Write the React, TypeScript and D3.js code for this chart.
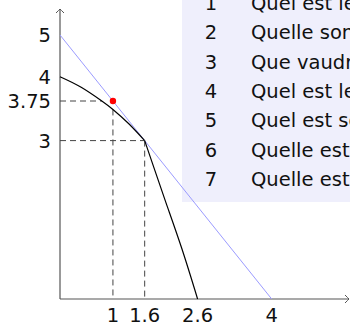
import React, { useEffect, useRef } from 'react';
import * as d3 from 'd3';

// frontière: partie haute et partie basse (coude en 1.6)
const upperX = [0, 0.4, 0.79, 1, 1.3, 1.6];
const upperY = [4.21, 4.01, 3.75, 3.59, 3.32, 3.0];
const lowerX = [1.6, 1.75, 2.0, 2.3, 2.6];
const lowerY = [3.0, 2.56, 1.83, 0.96, 0];
// droite de budget
const budgetX = [0, 4];
const budgetY = [5, 0];
const point = { x: 1, y: 3.75 };

const xTickValues = [1, 1.6, 2.6, 4];
const xTickLabels = ['1', '1.6', '2.6', '4'];
const yTickValues = [3, 3.75, 4.21, 5];
const yTickLabels = ['3', '3.75', '4', '5'];

// guides pointillés: [x1, y1, x2, y2]
const guides = [
  [0, 3.75, 0.79, 3.75],
  [1, 3.59, 1, 0],
  [0, 3, 1.6, 3],
  [1.6, 3, 1.6, 0],
];

const questions = [
  "Quel est le coût d'opportunité ?",
  'Quelle sont les combinaisons possibles ?',
  'Que vaudrait la production maximale ?',
  'Quel est le point optimal ?',
  'Quel est son prix relatif ?',
  'Quelle est la pente de la droite ?',
  'Quelle est la quantité produite ?',
];

const App = () => {
  const svgRef = useRef();

  useEffect(() => {
    const width = 350;
    const height = 324;
    const svg = d3.select(svgRef.current);
    svg.selectAll('*').remove();
    svg.attr('width', width).attr('height', height);

    const x = d3.scaleLinear().domain([0, 4]).range([60, 271.7]);
    const y = d3.scaleLinear().domain([0, 5]).range([299, 35]);
    const font = 'DejaVu Sans, sans-serif';
    const fs = 19.5;

    // legend box
    const legend = svg.append('g');
    legend.append('rect')
      .attr('x', 182).attr('y', -10)
      .attr('width', 200).attr('height', 212)
      .attr('fill', '#efeffc');
    questions.forEach((q, i) => {
      const by = 10 + i * 29.3;
      legend.append('text')
        .attr('x', 211).attr('y', by)
        .attr('text-anchor', 'middle')
        .attr('font-family', font).attr('font-size', fs)
        .attr('fill', '#111')
        .text(i + 1);
      legend.append('text')
        .attr('x', 251).attr('y', by)
        .attr('font-family', font).attr('font-size', fs)
        .attr('fill', '#111')
        .text(q);
    });

    // axes
    const axisColor = '#555';
    svg.append('line')
      .attr('x1', x(0)).attr('y1', y(0))
      .attr('x2', 349).attr('y2', y(0))
      .attr('stroke', axisColor).attr('stroke-width', 1.2);
    svg.append('line')
      .attr('x1', x(0)).attr('y1', y(0))
      .attr('x2', x(0)).attr('y2', 9)
      .attr('stroke', axisColor).attr('stroke-width', 1.2);
    svg.append('path')
      .attr('d', `M${349 - 4},${y(0) - 4} Q${349 - 1},${y(0) - 1} ${349},${y(0)} Q${349 - 1},${y(0) + 1} ${349 - 4},${y(0) + 4}`)
      .attr('fill', 'none').attr('stroke', axisColor).attr('stroke-width', 1);
    svg.append('path')
      .attr('d', `M${x(0) - 4},${9 + 4} Q${x(0) - 1},${9 + 1} ${x(0)},${9} Q${x(0) + 1},${9 + 1} ${x(0) + 4},${9 + 4}`)
      .attr('fill', 'none').attr('stroke', axisColor).attr('stroke-width', 1);

    // guides
    svg.selectAll('.guide')
      .data(guides)
      .enter().append('line')
      .attr('class', 'guide')
      .attr('x1', d => x(d[0])).attr('y1', d => y(d[1]))
      .attr('x2', d => x(d[2])).attr('y2', d => y(d[3]))
      .attr('stroke', '#444').attr('stroke-width', 1)
      .attr('stroke-dasharray', '6,4');

    // budget line
    svg.append('path')
      .datum(budgetX.map((v, i) => [v, budgetY[i]]))
      .attr('d', d3.line().x(d => x(d[0])).y(d => y(d[1])))
      .attr('fill', 'none').attr('stroke', '#9b9bff').attr('stroke-width', 1);

    // frontier
    const curve = d3.line().x(d => x(d[0])).y(d => y(d[1])).curve(d3.curveNatural);
    [[upperX, upperY], [lowerX, lowerY]].forEach(([xs, ys]) => {
      svg.append('path')
        .datum(xs.map((v, i) => [v, ys[i]]))
        .attr('d', curve)
        .attr('fill', 'none').attr('stroke', '#000').attr('stroke-width', 1.2);
    });

    // point
    svg.append('circle')
      .attr('cx', x(point.x)).attr('cy', y(point.y))
      .attr('r', 3.2).attr('fill', '#ff0000');

    // tick labels
    svg.selectAll('.xlab')
      .data(xTickValues)
      .enter().append('text')
      .attr('class', 'xlab')
      .attr('x', d => x(d)).attr('y', 321.5)
      .attr('text-anchor', 'middle')
      .attr('font-family', font).attr('font-size', fs)
      .attr('fill', '#111')
      .text((d, i) => xTickLabels[i]);
    svg.selectAll('.ylab')
      .data(yTickValues)
      .enter().append('text')
      .attr('class', 'ylab')
      .attr('x', 51).attr('y', d => y(d) + 7)
      .attr('text-anchor', 'end')
      .attr('font-family', font).attr('font-size', fs)
      .attr('fill', '#111')
      .text((d, i) => yTickLabels[i]);
  }, []);

  return (
    <svg ref={svgRef} style={{ position: 'absolute', left: 0, top: 0 }}></svg>
  );
};

export default App;
